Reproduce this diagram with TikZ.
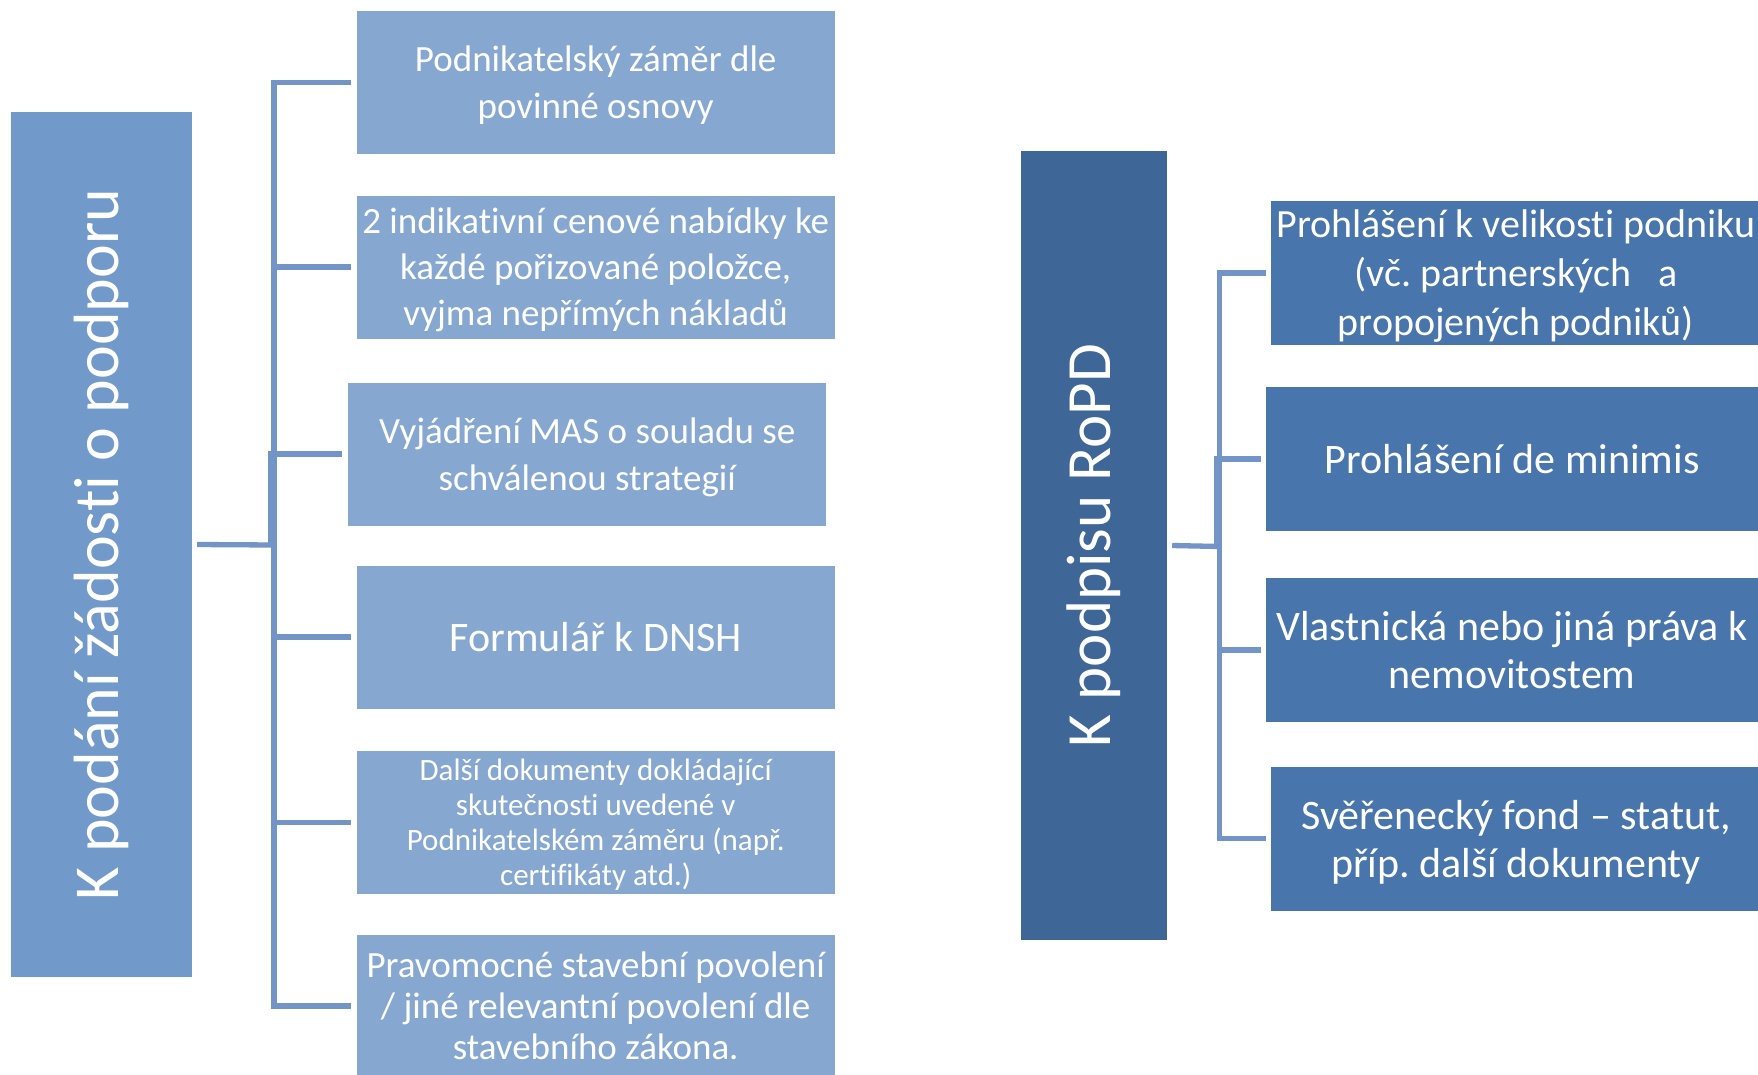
\documentclass[tikz,border=0pt]{standalone}
\usepackage{fontspec}
\setmainfont{Carlito}[Ligatures=NoCommon]
\frenchspacing
\definecolor{lrootC}{RGB}{113,154,202}
\definecolor{lboxC}{RGB}{134,168,208}
\definecolor{rrootC}{RGB}{62,102,151}
\definecolor{rboxC}{RGB}{71,117,172}
\definecolor{linkC}{RGB}{114,148,199}
\begin{document}
\begin{tikzpicture}[x=1pt,y=-1pt,
  box/.style={inner sep=0pt, align=center, text=white},
  rootbox/.style={box, font=\fontsize{64}{76}\selectfont},
  lbox/.style={box, fill=lboxC, minimum width=478pt, minimum height=143pt, font=\fontsize{37}{47}\selectfont},
  rbox/.style={box, fill=rboxC, minimum height=144pt, font=\fontsize{42}{48}\selectfont},
  link/.style={draw=linkC, line width=5.3pt}]
\useasboundingbox (0,0) rectangle (1758,1074); % ramec obrazku
% levy strom
\node[rootbox, fill=lrootC, minimum width=181pt, minimum height=865pt] (lroot) at (101.5,544.5) {\rotatebox{90}{K podání žádosti o podporu}};
\node[lbox] (a1) at (595.7,82.5) {Podnikatelský záměr dle\\\smash{povinné osnovy}};
\node[lbox, font=\fontsize{37}{46}\selectfont] (a2) at (595.7,267) {2 indikativní cenové nabídky ke\\každé pořizované položce,\\\smash{vyjma nepřímých nákladů}};
\node[lbox] (a3) at (587.3,454) {Vyjádření MAS o souladu se\\\smash{schválenou strategií}};
\node[lbox, font=\fontsize{42}{50}\selectfont] (a4) at (595.7,637) {Formulář k DNSH};
\node[lbox, font=\fontsize{31}{35}\selectfont] (a5) at (595.7,822.5) {Další dokumenty dokládající\\skutečnosti uvedené v\\Podnikatelském záměru (např.\\\smash{certifikáty atd.)}};
\node[lbox, font=\fontsize{37}{41}\selectfont] (a6) at (595.7,1006) {Pravomocné stavební povolení\\/ jiné relevantní povolení dle\\stavebního zákona.};
\coordinate (lspine) at (274,545);
\draw[link] ([xshift=5pt]lroot.east) -- (lspine);
\draw[link] ([xshift=-6pt]a1.west) -| (lspine) |- ([xshift=-6pt]a6.west);
\draw[link] ([xshift=-3.5pt]lspine) |- ([xshift=-6pt]a3.west); % posunuta vetev
\foreach \n in {a2,a4,a5}
  \draw[link] (lspine |- \n.west) -- ([xshift=-6pt]\n.west);
% pravy strom
\node[rootbox, fill=rrootC, minimum width=146pt, minimum height=789pt, font=\fontsize{63}{76}\selectfont] (rroot) at (1094,545.5) {\rotatebox{90}{K podpisu RoPD}};
\node[rbox, minimum width=490pt, font=\fontsize{40}{49}\selectfont] (b1) at (1516,273) {Prohlášení k velikosti podniku\\(vč. partnerských\ \ \ a\\\smash{propojených podniků)}};
\node[rbox, minimum width=492pt] (b2) at (1512,459) {Prohlášení de minimis};
\node[rbox, minimum width=492pt] (b3) at (1512,650) {Vlastnická nebo jiná práva k\\nemovitostem};
\node[rbox, minimum width=490pt] (b4) at (1516,838.5) {Svěřenecký fond – statut,\\\smash{příp. další dokumenty}};
\coordinate (rspine) at (1219.5,546.5);
\draw[link] ([xshift=5pt]rroot.east) -- (rspine);
\draw[link] ([xshift=-5pt]b1.west) -| (rspine) |- ([xshift=-5pt]b4.west);
\draw[link] ([xshift=-3pt]rspine) |- ([xshift=-5pt]b2.west); % posunuta vetev
\draw[link] (rspine |- b3.west) -- ([xshift=-5pt]b3.west);
\end{tikzpicture}
\end{document}
